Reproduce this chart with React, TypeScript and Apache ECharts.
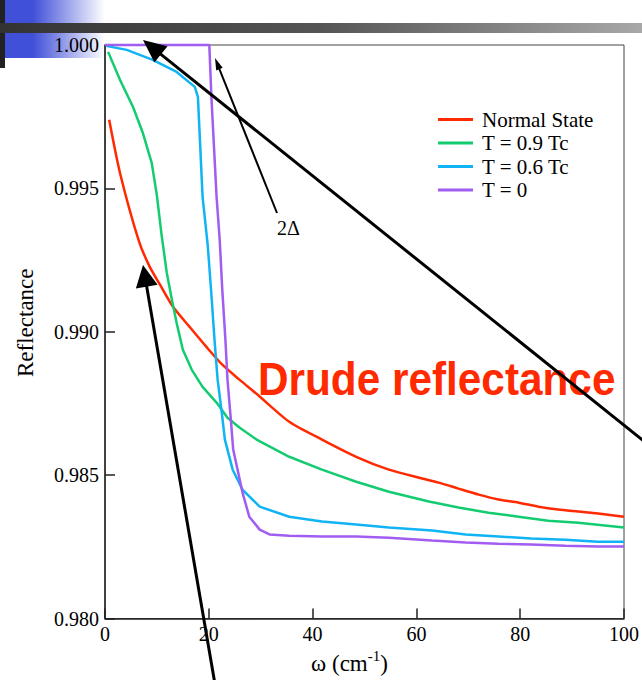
import React, { useEffect, useRef } from 'react';
import * as echarts from 'echarts';

// ---- data ----
const seriesNames = ['Normal State', 'T = 0.9 Tc', 'T = 0.6 Tc', 'T = 0'];
const seriesColors = ['#ff2a00', '#14cc70', '#10b4f4', '#a15cf0'];
const seriesSmooth = [0.25, false, false, false];

const normalState: [number, number][] = [
  [0.8, 0.99739], [2.9, 0.99553], [6.5, 0.99318], [8.6, 0.99227],
  [10.6, 0.99164], [13.1, 0.99087], [16.3, 0.99017], [19.5, 0.98948], [22.6, 0.98885],
  [25.9, 0.98833], [29.3, 0.98782], [35.5, 0.98686], [41.8, 0.98624], [48.4, 0.98564],
  [54.7, 0.98519], [60.5, 0.98491], [64.3, 0.98474], [68.1, 0.98453], [72.0, 0.98432],
  [75.8, 0.98415], [79.7, 0.98404], [83.5, 0.9839], [87.3, 0.9838], [91.2, 0.98373],
  [95.0, 0.98366], [100, 0.98355],
];
const t09Tc: [number, number][] = [
  [0.6, 0.99976], [2.9, 0.99878], [5.4, 0.99784], [7.3, 0.99693], [9.0, 0.99589],
  [10.0, 0.99475], [10.9, 0.99338], [11.9, 0.99206], [12.9, 0.99111], [13.8, 0.99031],
  [15.0, 0.98937], [16.7, 0.98868], [18.8, 0.98808], [21.5, 0.98753], [23.6, 0.987],
  [25.9, 0.98666], [29.2, 0.98624], [35.5, 0.98564], [41.8, 0.98519], [48.4, 0.98477],
  [54.7, 0.98442], [62.4, 0.98408], [68.1, 0.98387], [73.9, 0.98369], [79.7, 0.98355],
  [85.4, 0.98341], [91.2, 0.98334], [100, 0.98317],
];
const t06Tc: [number, number][] = [
  [0.2, 0.99997], [4.2, 0.99983], [9.2, 0.99948], [13.8, 0.99906], [17.3, 0.99854],
  [17.9, 0.99819], [18.2, 0.99704], [18.8, 0.9947], [19.8, 0.993], [20.5, 0.9913],
  [21.1, 0.98972], [21.7, 0.98833], [22.5, 0.98718], [23.1, 0.98624], [24.6, 0.98519],
  [26.5, 0.98449], [29.8, 0.9839], [35.5, 0.98355], [41.8, 0.98338], [48.4, 0.98328],
  [54.7, 0.98317], [63.0, 0.98307], [69.5, 0.98293], [75.8, 0.98286], [82.1, 0.98279],
  [88.7, 0.98275], [95.0, 0.98268], [100, 0.98268],
];
const tZero: [number, number][] = [
  [0, 1.0], [20.1, 1.0], [20.5, 0.99819], [21.5, 0.9947], [22.1, 0.99321],
  [22.6, 0.99146], [23.2, 0.98972], [23.6, 0.98833], [24.2, 0.98704], [24.7, 0.98589],
  [26.5, 0.98439], [27.8, 0.98355], [29.8, 0.9831], [31.7, 0.98293], [35.5, 0.98289],
  [41.8, 0.98286], [48.4, 0.98286], [54.7, 0.98282], [63.0, 0.98272], [69.5, 0.98265],
  [75.8, 0.98261], [82.1, 0.98258], [88.7, 0.98254], [95.0, 0.98251], [100, 0.98251],
];

const xRange = [0, 100];
const xStep = 20;
const yRange = [0.98, 1.0];
const yStep = 0.005;

const yTitle = 'Reflectance';
const overlayTitle = 'Drude reflectance';
const gapLabel = '2Δ';

const SERIF = "'Liberation Serif', 'Times New Roman', serif";
const SANS = "'Liberation Sans', Arial, sans-serif";

function arrow(tail: number[], tip: number[], lw: number, headLen: number, headHalf: number) {
  const dx = tip[0] - tail[0];
  const dy = tip[1] - tail[1];
  const len = Math.sqrt(dx * dx + dy * dy);
  const ux = dx / len;
  const uy = dy / len;
  const bx = tip[0] - ux * headLen;
  const by = tip[1] - uy * headLen;
  const px = -uy;
  const py = ux;
  return [
    {
      type: 'line',
      z: 100,
      silent: true,
      shape: { x1: tail[0], y1: tail[1], x2: bx + ux * 2, y2: by + uy * 2 },
      style: { stroke: '#000', lineWidth: lw },
    },
    {
      type: 'polygon',
      z: 100,
      silent: true,
      shape: {
        points: [
          [tip[0], tip[1]],
          [bx + px * headHalf, by + py * headHalf],
          [bx - px * headHalf, by - py * headHalf],
        ],
      },
      style: { fill: '#000' },
    },
  ];
}

export default function App() {
  const ref = useRef<HTMLDivElement>(null);
  useEffect(() => {
    const chart = echarts.init(ref.current as HTMLDivElement, null, { renderer: 'svg' });
    const datasets = [normalState, t09Tc, t06Tc, tZero];

    const option: any = {
      animation: false,
      backgroundColor: '#fff',
      textStyle: { fontFamily: SERIF },
      grid: {
        left: 105,
        top: 45,
        width: 521,
        height: 574,
        show: true,
        borderColor: '#444',
        borderWidth: 1,
        backgroundColor: 'transparent',
      },
      legend: {
        left: 438,
        top: 109,
        padding: 0,
        orient: 'vertical',
        icon: 'rect',
        itemWidth: 35,
        itemHeight: 3,
        itemGap: 2.5,
        data: seriesNames,
        textStyle: { fontFamily: SERIF, fontSize: 21, color: '#000', padding: [0, 0, 0, 4] },
      },
      xAxis: {
        type: 'value',
        min: xRange[0],
        max: xRange[1],
        interval: xStep,
        name: '{a|ω (cm}{s|-1}{a|)}',
        nameLocation: 'middle',
        nameGap: 30,
        nameTextStyle: {
          padding: [0, 30, 0, 0],
          rich: {
            a: { fontFamily: SERIF, fontSize: 23, color: '#000', lineHeight: 30 },
            s: { fontFamily: SERIF, fontSize: 15, color: '#000', verticalAlign: 'top', lineHeight: 30 },
          },
        },
        axisLine: { lineStyle: { color: '#222', width: 1.5 } },
        axisTick: { inside: true, length: 10, lineStyle: { color: '#222', width: 1.5 } },
        axisLabel: { color: '#000', fontSize: 20, fontFamily: SERIF, margin: 5 },
        splitLine: { show: false },
      },
      yAxis: {
        type: 'value',
        min: yRange[0],
        max: yRange[1],
        interval: yStep,
        name: yTitle,
        nameLocation: 'middle',
        nameGap: 68,
        nameTextStyle: { color: '#000', fontSize: 23, fontFamily: SERIF, padding: [0, 0, 0, 18] },
        axisLine: { lineStyle: { color: '#222', width: 1.5 } },
        axisTick: { inside: true, length: 10, lineStyle: { color: '#222', width: 1.5 } },
        axisLabel: {
          color: '#000',
          fontSize: 20,
          fontFamily: SERIF,
          margin: 6,
          formatter: (v: number) => v.toFixed(3),
        },
        splitLine: { show: false },
      },
      series: datasets.map((d, i) => ({
        name: seriesNames[i],
        type: 'line',
        data: d,
        symbol: 'none',
        smooth: seriesSmooth[i],
        clip: false,
        lineStyle: { color: seriesColors[i], width: 2.5 },
        itemStyle: { color: seriesColors[i] },
      })),
      graphic: {
        elements: [
          // slide header decoration
          {
            type: 'rect',
            z: -1,
            silent: true,
            shape: { x: 5, y: 0, width: 100, height: 58 },
            style: {
              fill: new echarts.graphic.LinearGradient(0, 0, 1, 0, [
                { offset: 0, color: '#4150d8' },
                { offset: 0.28, color: '#4150d8' },
                { offset: 1, color: 'rgba(255,255,255,1)' },
              ]),
            },
          },
          {
            type: 'rect',
            z: -1,
            silent: true,
            shape: { x: 0, y: 0, width: 5, height: 68 },
            style: { fill: '#222' },
          },
          {
            type: 'rect',
            z: -1,
            silent: true,
            shape: { x: 0, y: 23, width: 642, height: 10 },
            style: {
              fill: new echarts.graphic.LinearGradient(0, 0, 1, 0, [
                { offset: 0, color: '#333333' },
                { offset: 0.5, color: '#555555' },
                { offset: 1, color: '#a8a8a8' },
              ]),
            },
          },
          // overlay title
          {
            type: 'text',
            z: 50,
            silent: true,
            x: 258,
            y: 379,
            scaleX: 0.92,
            style: {
              text: overlayTitle,
              x: 0,
              y: 0,
              font: `bold 46px ${SANS}`,
              fill: '#ff2a00',
              textAlign: 'left',
              textVerticalAlign: 'middle',
            },
          },
          {
            type: 'text',
            z: 100,
            silent: true,
            style: {
              text: gapLabel,
              x: 277,
              y: 228,
              font: `20px ${SERIF}`,
              fill: '#000',
              textAlign: 'left',
              textVerticalAlign: 'middle',
            },
          },
          ...arrow([660, 454], [143, 40], 3, 23, 10.5),
          ...arrow([277, 213], [215, 58], 2, 12, 3.5),
          ...arrow([216, 690], [143, 265], 3, 22, 11),
        ],
      },
    };
    chart.setOption(option);
    return () => chart.dispose();
  }, []);
  return (
    <div
      ref={ref}
      style={{ position: 'fixed', left: 0, top: 0, width: 642, height: 680, background: '#fff' }}
    />
  );
}
